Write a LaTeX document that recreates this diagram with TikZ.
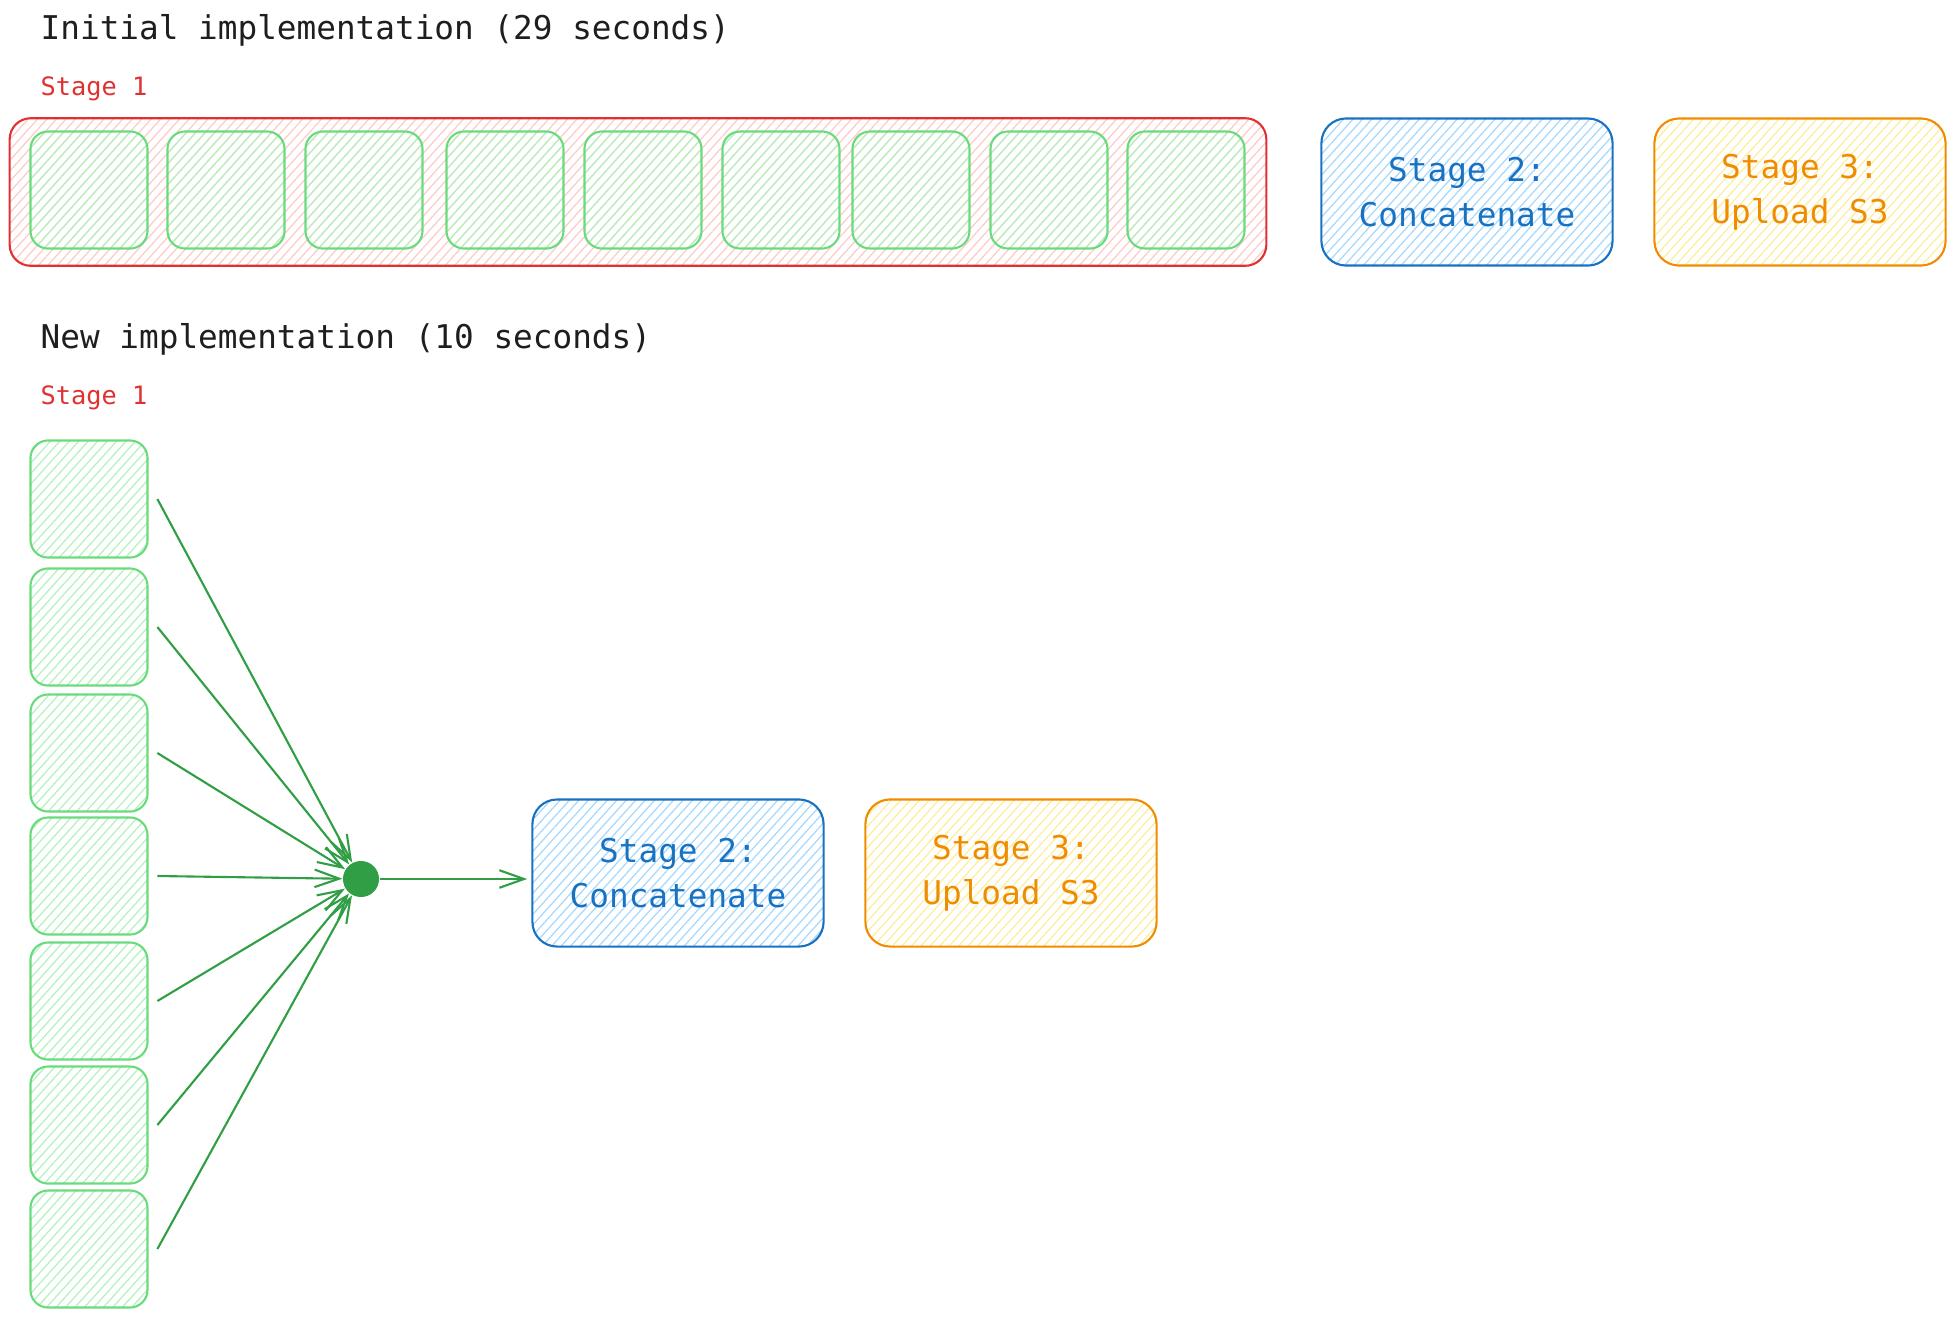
\documentclass[tikz,border=0pt]{standalone}
\usepackage{fontspec}
\setmonofont{DejaVu Sans Mono}
\usetikzlibrary{patterns.meta,arrows.meta}

\definecolor{inkblack}{HTML}{1E1E1E}
\definecolor{stagered}{HTML}{E03131}
\definecolor{hatchred}{HTML}{FFC9C9}
\definecolor{chunkgreen}{HTML}{69DB7C}
\definecolor{hatchgreen}{HTML}{B2F2BB}
\definecolor{arrowgreen}{HTML}{2F9E44}
\definecolor{stageblue}{HTML}{1971C2}
\definecolor{hatchblue}{HTML}{A5D8FF}
\definecolor{stageorange}{HTML}{F08C00}
\definecolor{hatchyellow}{HTML}{FFEC99}

\tikzset{
  hatch/.style={pattern={Lines[angle=48,distance=2pt,line width=0.35pt]}, pattern color=#1},
  chunk/.style={draw=chunkgreen, line width=0.6pt, rounded corners=5pt, hatch=hatchgreen,
    minimum width=1.17cm, minimum height=1.17cm},
  stagebox/.style={draw=#1, line width=0.6pt, rounded corners=7pt, text=#1, align=center,
    minimum width=2.91cm, minimum height=1.47cm, font=\ttfamily\fontsize{9.3}{12.8}\selectfont},
  heading/.style={anchor=west, inner sep=0pt, text=inkblack, font=\ttfamily\fontsize{9.3}{11}\selectfont},
  stagelabel/.style={anchor=west, inner sep=0pt, text=stagered, font=\ttfamily\fontsize{7.2}{9}\selectfont},
}

\begin{document}
\begin{tikzpicture}[x=0.01cm, y=-0.01cm, >={Straight Barb[length=7pt,width=5pt]}]

    \useasboundingbox (0,0) rectangle (1956,1317);

    % Initial implementation (one stage after the other)
    \node[heading] (title1) at (40,30) {Initial implementation (29 seconds)};
    \node[stagelabel] (label1) at (40,89) {Stage 1};
    \node[draw=stagered, line width=0.6pt, rounded corners=6pt, hatch=hatchred,
      minimum width=12.56cm, minimum height=1.475cm] (stage1) at (638,192) {};
    \foreach \cx [count=\i] in {89,226,364,505,643,781,911,1049,1186}
        \node[chunk] (top\i) at (\cx,190) {};

    \node[stagebox=stageblue, hatch=hatchblue] (concat1) at (1467,192) {Stage 2:\\Concatenate};
    \node[stagebox=stageorange, hatch=hatchyellow] (upload1) at (1800,192) {Stage 3:\\Upload S3};

    % New implementation (chunks in parallel)
    \node[heading] (title2) at (40,339) {New implementation (10 seconds)};
    \node[stagelabel] (label2) at (40,398) {Stage 1};
    \foreach \cy [count=\i] in {499,627,753,876,1001,1125,1249}
        \node[chunk] (col\i) at (89,\cy) {};

    % Merge point
    \node[circle, fill=arrowgreen, minimum size=0.36cm, inner sep=0pt] (merge) at (361,879) {};
    \foreach \i in {1,...,7}
        \draw[->, arrowgreen, line width=0.6pt] ([xshift=2.5pt]col\i.east) -- (merge);

    \node[stagebox=stageblue, hatch=hatchblue] (concat2) at (678,873) {Stage 2:\\Concatenate};
    \node[stagebox=stageorange, hatch=hatchyellow] (upload2) at (1011,873) {Stage 3:\\Upload S3};

    % Merge into concatenation
    \draw[->, arrowgreen, line width=0.6pt, shorten >=1.2pt] (merge) -- (merge -| concat2.west);

\end{tikzpicture}
\end{document}
